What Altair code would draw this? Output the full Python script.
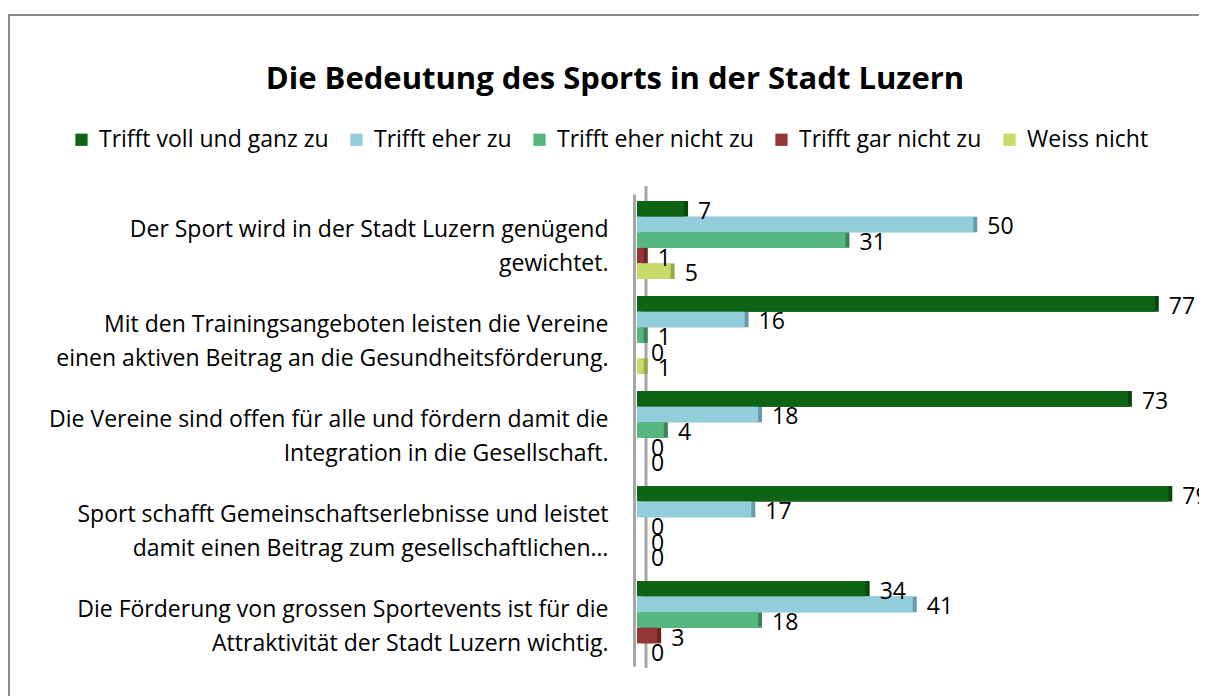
import altair as alt
import pandas as pd

categories = [
    "Der Sport wird in der Stadt Luzern genügend|gewichtet.",
    "Mit den Trainingsangeboten leisten die Vereine|einen aktiven Beitrag an die Gesundheitsförderung.",
    "Die Vereine sind offen für alle und fördern damit die|Integration in die Gesellschaft.",
    "Sport schafft Gemeinschaftserlebnisse und leistet|damit einen Beitrag zum gesellschaftlichen…",
    "Die Förderung von grossen Sportevents ist für die|Attraktivität der Stadt Luzern wichtig.",
]
series = ["Trifft voll und ganz zu", "Trifft eher zu", "Trifft eher nicht zu",
          "Trifft gar nicht zu", "Weiss nicht"]
colors = ["#0E6315", "#92CDDC", "#55B67F", "#963634", "#C9DA6B"]
dark_colors = ["#0A4710", "#6A9AAA", "#3C8359", "#6A2624", "#99A84C"]
values = [
    [7, 50, 31, 1, 5],
    [77, 16, 1, 0, 1],
    [73, 18, 4, 0, 0],
    [79, 17, 0, 0, 0],
    [34, 41, 18, 3, 0],
]

rows = []
for ci, cat in enumerate(categories):
    for si, s in enumerate(series):
        rows.append({"cat": cat, "series": s, "order": si, "value": values[ci][si]})
df = pd.DataFrame(rows)

FONT = "Open Sans"
FS = 23

y_scale = alt.Scale(paddingInner=0.18, paddingOuter=0.075)
y_enc = alt.Y("cat:N", sort=categories, title=None, scale=y_scale,
              axis=alt.Axis(labelExpr="split(datum.label, '|')", labelFontSize=FS,
                            labelLineHeight=34, labelPadding=26, ticks=False,
                            labelOffset=-10, offset=3,
                            domainColor="#A6A6A6", domainWidth=3, labelLimit=0,
                            labelColor="#000000", labelFont=FONT))
x_enc = alt.X("value:Q", scale=alt.Scale(domain=[0, 80]), axis=None)
yoff = alt.YOffset("series:N", sort=series)

frame_df = pd.DataFrame({"k": [0]})

# decorative outer frame and the back line of the 3D axis wall
frame = alt.Chart(frame_df).mark_rect(fill=None, stroke="#8C8C8C", strokeWidth=2).encode(
    x=alt.value(-628), x2=alt.value(600), y=alt.value(-179), y2=alt.value(520),
)
wall = alt.Chart(frame_df).mark_rule(color="#A6A6A6", strokeWidth=3).encode(
    x=alt.value(9), y=alt.value(-8), y2=alt.value(474),
)

shadow = alt.Chart(df).mark_bar(xOffset=4, x2Offset=4).encode(
    y=alt.Y("cat:N", sort=categories, scale=y_scale), x=x_enc, yOffset=yoff,
    color=alt.Color("series:N", sort=series,
                    scale=alt.Scale(domain=series, range=dark_colors), legend=None),
)

bars = alt.Chart(df).mark_bar().encode(
    y=y_enc, x=x_enc, yOffset=yoff,
    fill=alt.Fill("series:N", sort=series,
                  scale=alt.Scale(domain=series, range=colors),
                  legend=alt.Legend(title=None, orient="none", direction="horizontal",
                                    legendX=-567, legendY=-66, symbolType="square",
                                    symbolSize=150, symbolStrokeWidth=0,
                                    labelFontSize=FS, labelFont=FONT,
                                    labelColor="#000000", labelOffset=6,
                                    columnPadding=16, labelLimit=0)),
)

labels = alt.Chart(df).mark_text(align="left", baseline="middle", dx=14, dy=3,
                                 fontSize=FS, font=FONT, color="#000000").encode(
    y=alt.Y("cat:N", sort=categories), x="value:Q", yOffset=yoff,
    text="value:Q",
)

chart = alt.layer(frame, wall, shadow, bars, labels).resolve_scale(color="independent").properties(
    width=538, height=472,
    autosize=alt.AutoSizeParams(type="none"),
    padding={"left": 629, "top": 186, "right": 24, "bottom": 30},
    title=alt.TitleParams("Die Bedeutung des Sports in der Stadt Luzern",
                          fontSize=31, font=FONT, fontWeight="bold", color="#000000",
                          anchor="middle", frame="group", dx=-291, offset=-82),
).configure_view(stroke=None)

chart.save("out.html", embed_options={"renderer": "svg", "actions": False})
